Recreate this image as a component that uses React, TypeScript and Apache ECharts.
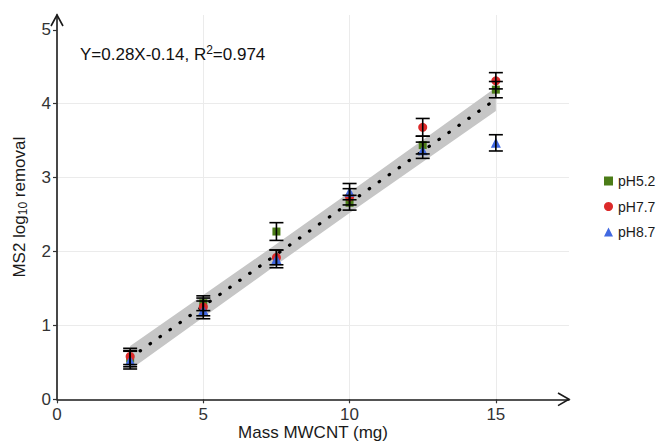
import React, { useEffect, useRef } from 'react';
import * as echarts from 'echarts';

// ---- data ----
const massX = [2.5, 5, 7.5, 10, 12.5, 15];
const pH52 = [0.55, 1.3, 2.27, 2.66, 3.44, 4.19];
const err52 = [0.11, 0.1, 0.12, 0.1, 0.12, 0.11];
const pH77 = [0.58, 1.25, 1.92, 2.74, 3.68, 4.31];
const err77 = [0.11, 0.12, 0.1, 0.11, 0.12, 0.11];
const pH87 = [0.53, 1.21, 1.9, 2.81, 3.37, 3.47];
const err87 = [0.12, 0.12, 0.12, 0.11, 0.11, 0.11];

const fitX = [2.5, 15];
const fitY = [0.56, 4.06];
const bandX = [2.5, 5, 7.5, 10, 12.5, 15];
const bandLower = [0.4, 1.11, 1.82, 2.52, 3.21, 3.9];
const bandUpper = [0.72, 1.41, 2.1, 2.8, 3.51, 4.22];

const xTickValues = [0, 5, 10, 15];
const yTickValues = [0, 1, 2, 3, 4, 5];

const seriesNames = ['pH5.2', 'pH7.7', 'pH8.7'];
const colors = ['#4b7c17', '#dc2a2a', '#4169e1'];

const FONT = '"Liberation Sans", Arial, sans-serif';

export default function App() {
  const ref = useRef<HTMLDivElement>(null);
  useEffect(() => {
    if (!ref.current) return;
    const chart = echarts.init(ref.current, null, { renderer: 'svg' });

    const values = [pH52, pH77, pH87];
    const errs = [err52, err77, err87];
    const symbols = ['rect', 'circle', 'triangle'];
    const sizes = [8, 9, 10];

    const errData: number[][] = [];
    values.forEach((vals, s) => {
      vals.forEach((v, i) => {
        errData.push([massX[i], v - errs[s][i], v + errs[s][i]]);
      });
    });

    const scatterSeries = values.map((vals, s) => ({
      name: seriesNames[s],
      type: 'scatter',
      symbol: symbols[s],
      symbolSize: sizes[s],
      itemStyle: { color: colors[s], opacity: 1 },
      data: vals.map((v, i) => [massX[i], v]),
      z: 4,
    }));

    chart.setOption({
      animation: false,
      backgroundColor: '#ffffff',
      grid: {
        left: 57,
        top: 15,
        right: 92,
        bottom: 43.7,
        containLabel: false,
        outerBoundsMode: 'none',
      },
      xAxis: {
        type: 'value',
        min: 0,
        max: 17.5,
        interval: 2.5,
        name: 'Mass MWCNT (mg)',
        nameLocation: 'middle',
        nameGap: 24,
        nameMoveOverlap: false,
        nameTextStyle: { fontSize: 17, lineHeight: 18, color: '#1a1a1a', fontFamily: FONT },
        axisLine: { show: true, onZero: false, lineStyle: { color: '#1a1a1a', width: 1.6 } },
        axisTick: { show: true, length: 4, customValues: xTickValues, lineStyle: { color: '#333', width: 1.2 } },
        axisLabel: { customValues: xTickValues, fontSize: 17, color: '#333', fontFamily: FONT, margin: 7 },
        splitLine: { show: true, showMinLine: false, lineStyle: { color: '#ebebeb', width: 1 } },
      },
      yAxis: {
        type: 'value',
        min: 0,
        max: 5.2,
        interval: 0.5,
        name: 'MS2 log{sub|10} removal',
        nameLocation: 'middle',
        nameGap: 28,
        nameMoveOverlap: false,
        nameTextStyle: {
          fontSize: 17,
          color: '#1a1a1a',
          fontFamily: FONT,
          rich: { sub: { fontSize: 12, fontFamily: FONT, color: '#1a1a1a', padding: [7, 0, 0, 0] } },
        },
        axisLine: { show: true, onZero: false, lineStyle: { color: '#1a1a1a', width: 1.6 } },
        axisTick: { show: true, length: 4, customValues: yTickValues, lineStyle: { color: '#333', width: 1.2 } },
        axisLabel: { customValues: yTickValues, fontSize: 17, color: '#333', fontFamily: FONT, margin: 6 },
        splitLine: { show: true, showMinLine: false, showMaxLine: false, lineStyle: { color: '#ebebeb', width: 1 } },
      },
      legend: {
        orient: 'vertical',
        left: 604,
        top: 173,
        padding: 0,
        itemWidth: 9,
        itemHeight: 9,
        itemGap: 9.5,
        data: [
          { name: seriesNames[0], icon: 'rect' },
          { name: seriesNames[1], icon: 'circle' },
          { name: seriesNames[2], icon: 'triangle' },
        ],
        textStyle: { fontSize: 14, color: '#1a1a1a', fontFamily: FONT, lineHeight: 16 },
      },
      graphic: [
        {
          type: 'text',
          left: 80,
          top: 44,
          z: 100,
          style: {
            text: 'Y=0.28X-0.14, R{sup|2}=0.974',
            fontSize: 17,
            fontFamily: FONT,
            fill: '#111',
            rich: { sup: { fontSize: 12, fontFamily: FONT, fill: '#111', padding: [0, 0, 9, 0] } },
          },
        },
        {
          type: 'polyline',
          z: 100,
          shape: { points: [[558, 393], [569, 399.3], [558, 405.6]] },
          style: { stroke: '#1a1a1a', lineWidth: 1.6, fill: 'none' },
        },
        {
          type: 'polyline',
          z: 100,
          shape: { points: [[51, 26], [57, 15], [63, 26]] },
          style: { stroke: '#1a1a1a', lineWidth: 1.6, fill: 'none' },
        },
      ],
      series: [
        {
          name: 'band',
          type: 'custom',
          z: 2,
          silent: true,
          data: [[bandX[0], bandLower[0], bandUpper[0]]],
          encode: { x: 0, y: [1, 2] },
          renderItem: (params: any, api: any) => {
            const upper = bandX.map((x, i) => api.coord([x, bandUpper[i]]));
            const lower = bandX.map((x, i) => api.coord([x, bandLower[i]])).reverse();
            return {
              type: 'polygon',
              shape: { points: upper.concat(lower) },
              style: { fill: '#c6c6c6', stroke: 'none' },
            };
          },
        },
        {
          name: 'fit',
          type: 'line',
          z: 3,
          silent: true,
          symbol: 'none',
          data: fitX.map((x, i) => [x, fitY[i]]),
          lineStyle: { color: '#000', width: 3.2, type: [0.5, 11.7], cap: 'round' },
        },
        ...scatterSeries,
        {
          name: 'errorbars',
          type: 'custom',
          z: 5,
          silent: true,
          data: errData,
          encode: { x: 0, y: [1, 2] },
          renderItem: (params: any, api: any) => {
            const x = api.value(0);
            const lo = api.coord([x, api.value(1)]);
            const hi = api.coord([x, api.value(2)]);
            const hw = 7;
            const st = { stroke: '#000', lineWidth: 1.6 };
            return {
              type: 'group',
              children: [
                { type: 'line', shape: { x1: lo[0], y1: lo[1], x2: hi[0], y2: hi[1] }, style: st },
                { type: 'line', shape: { x1: lo[0] - hw, y1: lo[1], x2: lo[0] + hw, y2: lo[1] }, style: st },
                { type: 'line', shape: { x1: hi[0] - hw, y1: hi[1], x2: hi[0] + hw, y2: hi[1] }, style: st },
              ],
            };
          },
        },
      ],
    });
    return () => chart.dispose();
  }, []);

  return (
    <div
      ref={ref}
      style={{ position: 'fixed', left: 0, top: 0, width: 661, height: 443, background: '#fff' }}
    />
  );
}
